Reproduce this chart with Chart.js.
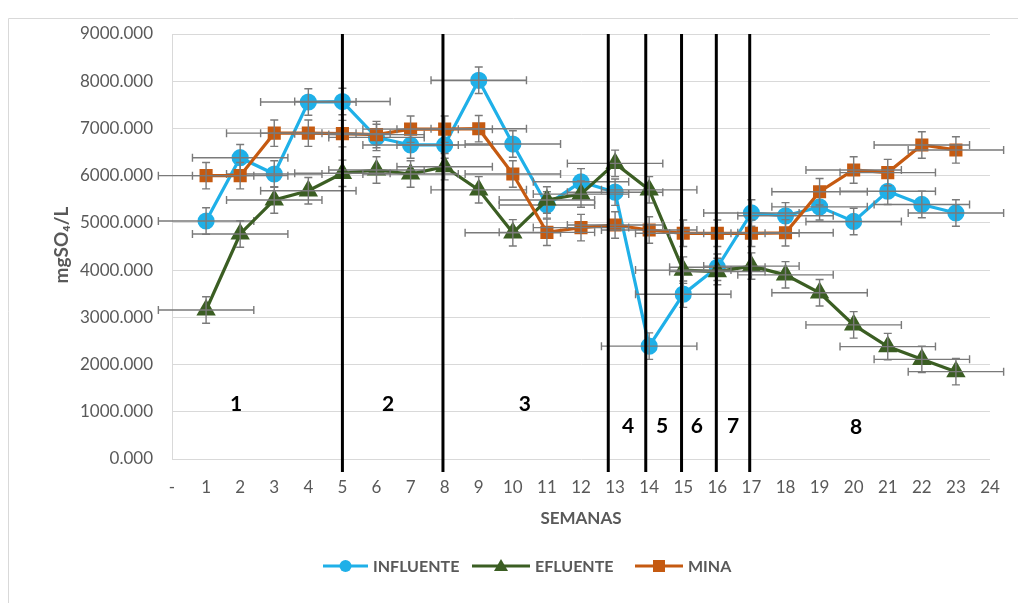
<!DOCTYPE html>
<html>
<head>
<meta charset="utf-8">
<script src="https://cdn.jsdelivr.net/npm/chart.js@4.4.1/dist/chart.umd.min.js"></script>
<style>
  html, body { margin: 0; padding: 0; background: #fff; }
  #wrap { position: relative; width: 1018px; height: 603px; }
</style>
</head>
<body>
<div id="wrap"><canvas id="c" width="1018" height="603"></canvas></div>
<script>
// weeks (x) and sulfate concentration (mgSO4/L)
const weeks = [1, 2, 3, 4, 5, 6, 7, 8, 9, 10, 11, 12, 13, 14, 15, 16, 17, 18, 19, 20, 21, 22, 23];
const influente = [5040, 6380, 6035, 7560, 7570, 6810, 6650, 6650, 8020, 6670, 5380, 5870, 5650, 2390, 3490, 4060, 5210, 5150, 5340, 5030, 5670, 5390, 5210];
const efluente = [3155, 4765, 5485, 5680, 6050, 6120, 6035, 6190, 5700, 4790, 5485, 5610, 6260, 5700, 4000, 3970, 4085, 3900, 3520, 2840, 2380, 2110, 1850];
const mina = [6000, 6000, 6900, 6900, 6890, 6870, 6985, 6985, 6995, 6035, 4800, 4900, 4955, 4850, 4780, 4780, 4780, 4790, 5660, 6120, 6065, 6650, 6545];

// error bars (same for every point)
const yErr = 280;
const xErr = 1.4;

// x tick labels (0 shown as "-")
const xTickLabels = ['-', '1', '2', '3', '4', '5', '6', '7', '8', '9', '10', '11', '12', '13', '14', '15', '16', '17', '18', '19', '20', '21', '22', '23', '24'];

// phase separators (weeks) and phase numbers
const phaseBounds = [5, 7.95, 12.8, 13.9, 14.95, 15.97, 16.95];
const phaseLabels = [
  { text: '1', x: 1.88, y: 1170 },
  { text: '2', x: 6.34, y: 1170 },
  { text: '3', x: 10.35, y: 1150 },
  { text: '4', x: 13.38, y: 700 },
  { text: '5', x: 14.38, y: 700 },
  { text: '6', x: 15.4, y: 690 },
  { text: '7', x: 16.46, y: 690 },
  { text: '8', x: 20.07, y: 680 },
];

const yTitle = 'mgSO₄/L';

const FONT = "Lato, 'Open Sans', sans-serif";
const GREY = '#595959';

function pts(vals) {
  return weeks.map((w, i) => ({ x: w, y: vals[i] }));
}

// error bars for each dataset, drawn right after that dataset
const errorBars = {
  id: 'errorBars',
  afterDatasetDraw(chart, args) {
    const { ctx, scales: { x, y } } = chart;
    const ds = chart.data.datasets[args.index];
    ctx.save();
    ctx.strokeStyle = '#7a7a7a';
    ctx.lineWidth = 1.4;
    ds.data.forEach(p => {
      const px = x.getPixelForValue(p.x);
      const py = y.getPixelForValue(p.y);
      const yt = y.getPixelForValue(p.y + yErr);
      const yb = y.getPixelForValue(p.y - yErr);
      const xl = x.getPixelForValue(p.x - xErr);
      const xr = x.getPixelForValue(p.x + xErr);
      ctx.beginPath();
      ctx.moveTo(px, yt); ctx.lineTo(px, yb);
      ctx.moveTo(px - 4, yt); ctx.lineTo(px + 4, yt);
      ctx.moveTo(px - 4, yb); ctx.lineTo(px + 4, yb);
      ctx.moveTo(xl, py); ctx.lineTo(xr, py);
      ctx.moveTo(xl, py - 4); ctx.lineTo(xl, py + 4);
      ctx.moveTo(xr, py - 4); ctx.lineTo(xr, py + 4);
      ctx.stroke();
    });
    ctx.restore();
  }
};

// phase lines, phase numbers, y title, legend and frame
const extras = {
  id: 'extras',
  afterDatasetsDraw(chart) {
    const { ctx, scales: { x, y }, chartArea } = chart;
    ctx.save();
    ctx.strokeStyle = '#000';
    ctx.lineWidth = 3;
    phaseBounds.forEach(b => {
      const px = x.getPixelForValue(b);
      ctx.beginPath();
      ctx.moveTo(px, chartArea.top);
      ctx.lineTo(px, chartArea.bottom + 13);
      ctx.stroke();
    });
    ctx.fillStyle = '#000';
    ctx.font = 'bold 21px ' + FONT;
    ctx.textAlign = 'center';
    ctx.textBaseline = 'middle';
    phaseLabels.forEach(l => {
      ctx.fillText(l.text, x.getPixelForValue(l.x), y.getPixelForValue(l.y));
    });
    ctx.restore();
  },
  afterDraw(chart) {
    const { ctx } = chart;
    ctx.save();
    // frame
    ctx.strokeStyle = '#d9d9d9';
    ctx.lineWidth = 1;
    ctx.beginPath();
    ctx.moveTo(8.5, 640); ctx.lineTo(8.5, 18.5); ctx.lineTo(1040, 18.5);
    ctx.stroke();
    // y axis title
    ctx.save();
    ctx.translate(62, 245);
    ctx.rotate(-Math.PI / 2);
    ctx.font = 'bold 19px ' + FONT;
    ctx.fillStyle = GREY;
    ctx.textAlign = 'center';
    ctx.textBaseline = 'middle';
    ctx.fillText(yTitle, 0, 0);
    ctx.restore();
    // legend
    const items = [[0, 323, 368], [1, 472, 530], [2, 635, 683]];
    const ly = 566;
    ctx.font = 'bold 16px ' + FONT;
    ctx.textBaseline = 'middle';
    ctx.textAlign = 'left';
    items.forEach(([i, x0, x1]) => {
      const ds = chart.data.datasets[i];
      ctx.strokeStyle = ds.borderColor;
      ctx.lineWidth = 3;
      ctx.beginPath(); ctx.moveTo(x0, ly); ctx.lineTo(x1, ly); ctx.stroke();
      const mx = (x0 + x1) / 2;
      ctx.fillStyle = ds.pointBackgroundColor;
      ctx.beginPath();
      if (ds.pointStyle === 'circle') {
        ctx.arc(mx, ly, 6, 0, Math.PI * 2);
      } else if (ds.pointStyle === 'triangle') {
        ctx.moveTo(mx, ly - 7); ctx.lineTo(mx + 7, ly + 5); ctx.lineTo(mx - 7, ly + 5); ctx.closePath();
      } else {
        ctx.rect(mx - 6, ly - 6, 12, 12);
      }
      ctx.fill();
      ctx.fillStyle = GREY;
      ctx.fillText(ds.label, x1 + 5, ly + 1);
    });
    ctx.restore();
  }
};

new Chart(document.getElementById('c'), {
  type: 'line',
  data: {
    datasets: [
      {
        label: 'INFLUENTE', data: pts(influente), order: 3,
        borderColor: '#1fb0e8', backgroundColor: '#1fb0e8',
        pointBackgroundColor: '#1fb0e8', pointBorderColor: '#1fb0e8',
        pointStyle: 'circle', pointRadius: 7, borderWidth: 3.2,
      },
      {
        label: 'EFLUENTE', data: pts(efluente), order: 2,
        borderColor: '#3b5e23', backgroundColor: '#3b5e23',
        pointBackgroundColor: '#3b5e23', pointBorderColor: '#3b5e23',
        pointStyle: 'triangle', pointRadius: 8, borderWidth: 3.2,
      },
      {
        label: 'MINA', data: pts(mina), order: 1,
        borderColor: '#c55a11', backgroundColor: '#c55a11',
        pointBackgroundColor: '#c55a11', pointBorderColor: '#c55a11',
        pointStyle: 'rect', pointRadius: 7, borderWidth: 3.2,
      },
    ],
  },
  options: {
    responsive: false,
    animation: false,
    clip: false,
    layout: { padding: { left: 0, right: 28, top: 34, bottom: 70 } },
    plugins: { legend: { display: false }, tooltip: { enabled: false } },
    scales: {
      x: {
        type: 'linear', min: 0, max: 24,
        afterFit: s => { s.height = 74; },
        grid: { display: false, drawTicks: false },
        border: { display: false },
        ticks: {
          stepSize: 1, padding: 18, color: GREY,
          font: { family: FONT, size: 17 },
          callback: v => xTickLabels[v],
          autoSkip: false, maxRotation: 0,
        },
        title: {
          display: true, text: 'SEMANAS', color: GREY,
          font: { family: FONT, size: 17, weight: 'bold' },
          padding: { top: 4, bottom: 4 },
        },
      },
      y: {
        min: 0, max: 9000,
        afterFit: s => { s.width = 172; },
        grid: { color: '#d9d9d9', lineWidth: 1, drawTicks: false },
        border: { display: true, color: '#d9d9d9' },
        ticks: {
          stepSize: 1000, padding: 19, color: GREY,
          font: { family: FONT, size: 17 },
          callback: v => v.toFixed(3),
        },
      },
    },
  },
  plugins: [errorBars, extras],
});
</script>
</body>
</html>
